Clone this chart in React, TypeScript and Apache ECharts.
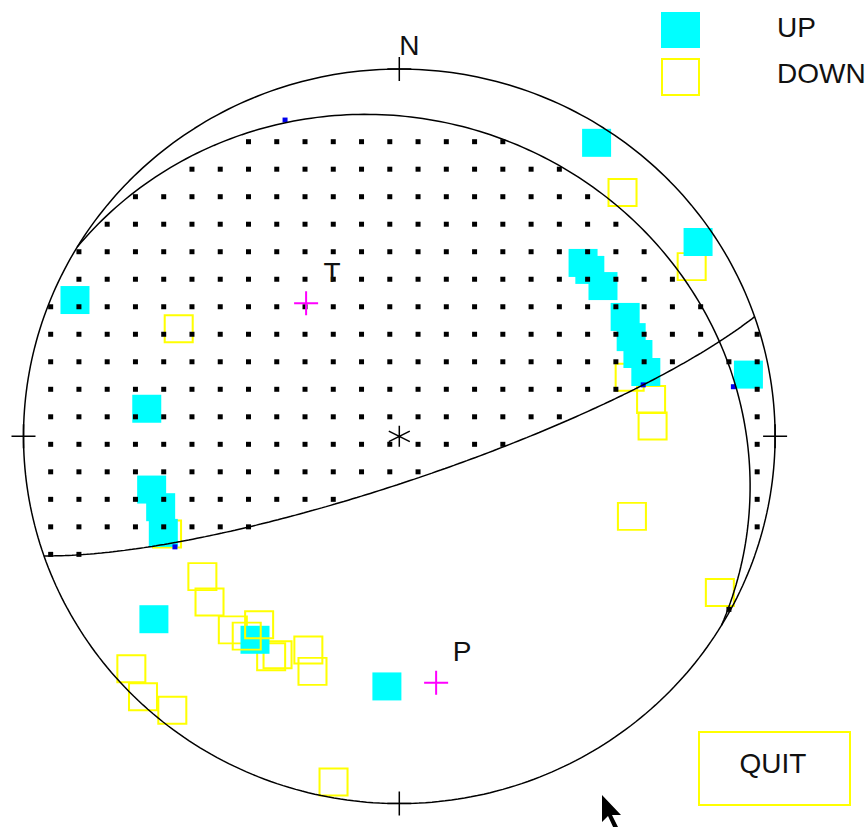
import React, { useEffect, useRef } from "react";
import * as echarts from "echarts";

// ---- data (stereonet coordinates: x = east, y = north, unit = primitive circle) ----
const PLANE_STRIKES = [301, 71];
const PLANE_DIPS = [16, 80];

const UP_POINTS: number[][] = [
  [0.525, 0.799], [0.795, 0.529], [0.489, 0.472], [0.507, 0.453], [0.542, 0.409],
  [0.601, 0.325], [0.617, 0.27], [0.635, 0.224], [0.656, 0.175], [0.929, 0.168],
  [-0.863, 0.371], [-0.672, 0.075], [-0.659, -0.145], [-0.635, -0.193], [-0.628, -0.263],
  [-0.653, -0.498], [-0.384, -0.554], [-0.033, -0.681],
];

const DOWN_POINTS: number[][] = [
  [0.594, 0.664], [0.778, 0.462], [-0.587, 0.293], [0.613, 0.161], [0.67, 0.1],
  [0.674, 0.028], [0.619, -0.218], [0.853, -0.425], [-0.618, -0.266], [-0.524, -0.382],
  [-0.505, -0.451], [-0.443, -0.527], [-0.341, -0.6], [-0.324, -0.595], [-0.242, -0.582],
  [-0.231, -0.64], [-0.713, -0.633], [-0.682, -0.709], [-0.604, -0.746], [-0.175, -0.941],
];
const DOWN_POINTS_TOP: number[][] = [[-0.406, -0.544], [-0.373, -0.513]];

const BLUE_MARKS: number[][] = [[-0.304, 0.861], [-0.597, -0.301], [0.649, 0.14], [0.889, 0.135]];
const AXIS_LABELS = ["T", "P"];
const AXIS_POINTS: number[][] = [[-0.248, 0.362], [0.098, -0.671]];
const CARDINALS: number[][] = [[0, 1], [0, -1], [-1, 0], [1, 0]];

// fill pattern grid (stereonet units)
const DOT_X0 = -0.0253;
const DOT_Y0 = -0.0218;
const DOT_DX = 0.0752;
const DOT_DY = 0.0749;

const FONT = "Liberation Sans, Arial, sans-serif";
const rad = (d: number) => (d * Math.PI) / 180;

function vec(trend: number, plunge: number) {
  const t = rad(trend), p = rad(plunge);
  return [Math.cos(p) * Math.cos(t), Math.cos(p) * Math.sin(t), Math.sin(p)];
}
function project(v: number[]) {
  let [n, e, d] = v;
  if (d < -1e-9) { n = -n; e = -e; d = -d; }
  const th = Math.acos(Math.min(1, Math.max(-1, d)));
  const r = Math.SQRT2 * Math.sin(th / 2);
  const h = Math.hypot(n, e);
  if (h < 1e-12) return [0, 0];
  return [(r * e) / h, (r * n) / h];
}
function unproject(x: number, y: number) {
  const r = Math.hypot(x, y);
  if (r < 1e-12) return [0, 0, 1];
  const th = 2 * Math.asin(Math.min(1, r / Math.SQRT2));
  const s = Math.sin(th);
  return [(s * y) / r, (s * x) / r, Math.cos(th)];
}
function greatCircle(strike: number, dip: number) {
  const s = vec(strike, 0);
  const d = vec(strike + 90, dip);
  const pts: number[][] = [];
  for (let a = 0; a <= 180; a += 1) {
    const c = Math.cos(rad(a)), sn = Math.sin(rad(a));
    pts.push(project([c * s[0] + sn * d[0], c * s[1] + sn * d[1], c * s[2] + sn * d[2]]));
  }
  return pts;
}
function pole(strike: number, dip: number) {
  return vec(strike - 90, 90 - dip);
}
const dot3 = (a: number[], b: number[]) => a[0] * b[0] + a[1] * b[1] + a[2] * b[2];

function compressionalDots() {
  const n1 = pole(PLANE_STRIKES[0], PLANE_DIPS[0]);
  const n2 = pole(PLANE_STRIKES[1], PLANE_DIPS[1]);
  const out: number[][] = [];
  for (let i = -14; i <= 15; i++) {
    for (let j = -15; j <= 14; j++) {
      const x = DOT_X0 + i * DOT_DX;
      const y = DOT_Y0 + j * DOT_DY;
      if (x * x + y * y > 1) continue;
      const v = unproject(x, y);
      if (dot3(v, n1) * dot3(v, n2) > 0) out.push([x, y]);
    }
  }
  return out;
}

function primitiveCircle() {
  const pts: number[][] = [];
  for (let a = 0; a <= 360; a += 1) pts.push([Math.sin(rad(a)), Math.cos(rad(a))]);
  return pts;
}

const PLUS = "path://M0,12H24M12,0V24";
const STAR = "path://M10,0V20M1,5L19,15M19,5L1,15";

export default function App() {
  const ref = useRef<HTMLDivElement>(null);
  useEffect(() => {
    if (!ref.current) return;
    const chart = echarts.init(ref.current, null, { renderer: "svg", width: 867, height: 827 });
    const lineStyle = { color: "#000", width: 1.5, opacity: 1 };
    const hollow = { color: "rgba(0,0,0,0)", borderColor: "#ffff00", borderWidth: 2, opacity: 1 };
    const option: any = {
      animation: false,
      backgroundColor: "#fff",
      grid: { left: 23.5, top: 69, width: 751.6, height: 734.6, show: false },
      xAxis: { type: "value", min: -1, max: 1, show: false },
      yAxis: { type: "value", min: -1, max: 1, show: false },
      series: [
        {
          type: "line", name: "primitive", data: primitiveCircle(), showSymbol: false,
          lineStyle, silent: true,
        },
        ...PLANE_STRIKES.map((s, k) => ({
          type: "line", name: "plane" + (k + 1), data: greatCircle(s, PLANE_DIPS[k]),
          showSymbol: false, lineStyle, silent: true,
        })),
        {
          type: "scatter", name: "DOWN", data: DOWN_POINTS, symbol: "rect", symbolSize: [28, 27],
          itemStyle: hollow, silent: true,
        },
        {
          type: "scatter", name: "UP", data: UP_POINTS, symbol: "rect", symbolSize: [29, 28],
          itemStyle: { color: "#00ffff", opacity: 1 }, silent: true,
        },
        {
          type: "scatter", name: "DOWN ", data: DOWN_POINTS_TOP, symbol: "rect", symbolSize: [28, 27],
          itemStyle: hollow, silent: true,
        },
        {
          type: "scatter", name: "compression", data: compressionalDots(), symbol: "rect",
          symbolSize: [5, 5], itemStyle: { color: "#000", opacity: 1 }, silent: true,
        },
        {
          type: "scatter", name: "marks", data: BLUE_MARKS, symbol: "rect", symbolSize: [5, 5],
          itemStyle: { color: "#0000ee", opacity: 1 }, silent: true,
        },
        {
          type: "scatter", name: "axes",
          data: AXIS_POINTS.map((p, k) => [p[0], p[1], AXIS_LABELS[k]]),
          symbol: PLUS, symbolSize: 24,
          itemStyle: { color: "rgba(0,0,0,0)", borderColor: "#ff00ff", borderWidth: 2, opacity: 1 },
          label: {
            show: true, position: "inside", offset: [26, -31],
            formatter: (p: any) => p.data[2], fontSize: 28, fontFamily: FONT, color: "#111",
          },
          silent: true,
        },
        {
          type: "scatter", name: "centre", data: [[0, 0]], symbol: STAR, symbolSize: 21,
          itemStyle: { color: "rgba(0,0,0,0)", borderColor: "#000", borderWidth: 1.5, opacity: 1 }, silent: true,
        },
        {
          type: "scatter", name: "ticks",
          data: CARDINALS.map((c, k) =>
            k === 0
              ? { value: c, label: { show: true, formatter: "N", position: "inside", offset: [10, -24], fontSize: 28, fontFamily: FONT, color: "#111" } }
              : { value: c }
          ),
          symbol: PLUS, symbolSize: 24,
          itemStyle: { color: "rgba(0,0,0,0)", borderColor: "#000", borderWidth: 1.5, opacity: 1 }, silent: true,
        },
      ],
      graphic: [
        { type: "rect", shape: { x: 661, y: 12, width: 39, height: 36 }, style: { fill: "#00ffff" } },
        { type: "rect", shape: { x: 662, y: 59, width: 37, height: 36 }, style: { fill: "none", stroke: "#ffff00", lineWidth: 2 } },
        { type: "text", x: 777, y: 27, style: { text: "UP", font: `28px ${FONT}`, fill: "#111", verticalAlign: "middle", align: "left" } },
        { type: "text", x: 777, y: 73, style: { text: "DOWN", font: `28px ${FONT}`, fill: "#111", verticalAlign: "middle", align: "left" } },
        { type: "rect", shape: { x: 699, y: 732, width: 151, height: 73 }, style: { fill: "none", stroke: "#ffff00", lineWidth: 2 } },
        { type: "text", x: 773, y: 763, style: { text: "QUIT", font: `28px ${FONT}`, fill: "#111", verticalAlign: "middle", align: "center" } },
        {
          type: "polygon",
          shape: { points: [[602, 795], [602, 822], [608, 816], [614, 829], [618, 827], [612, 815], [621, 815]] },
          style: { fill: "#000" },
        },
      ],
    };
    chart.setOption(option);
    return () => chart.dispose();
  }, []);
  return (
    <div
      ref={ref}
      style={{ position: "fixed", left: 0, top: 0, width: 867, height: 827, background: "#fff" }}
    />
  );
}
